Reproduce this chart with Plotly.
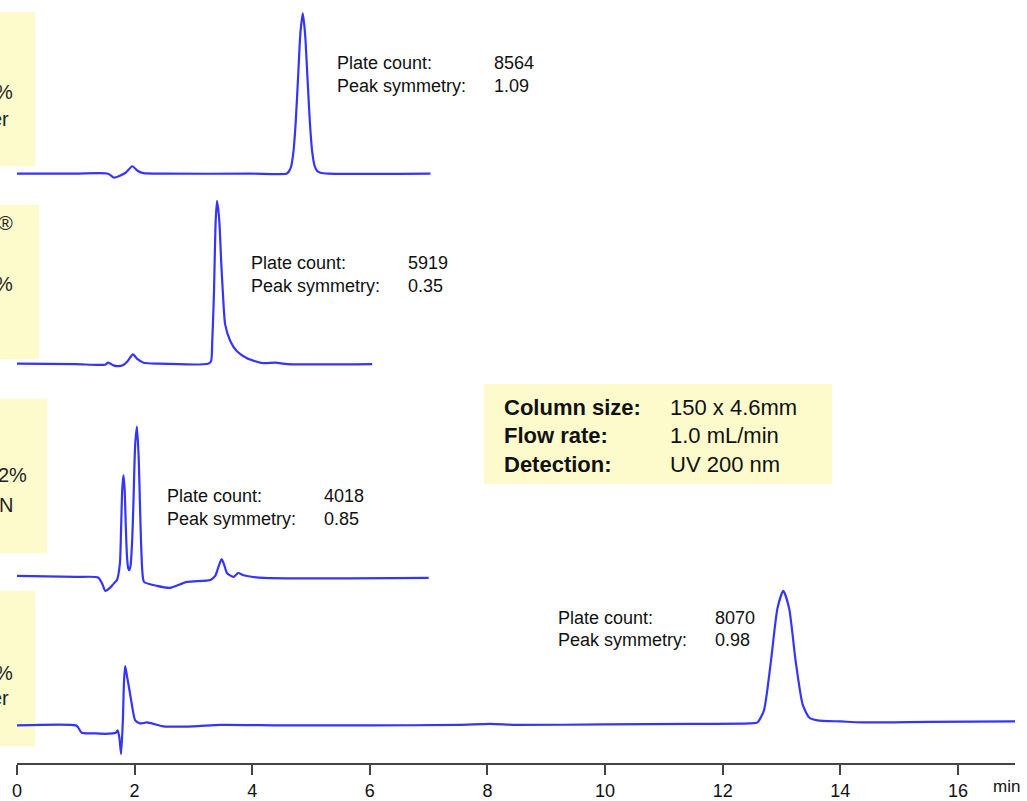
import plotly.graph_objects as go

# ---------------- data ----------------
# retention time (min) and detector response (relative units) for each chromatogram
t1 = [0, 1.0, 1.55, 1.65, 1.75, 1.85, 1.96, 2.05, 2.15, 2.5, 4.0, 4.58, 4.62, 4.66, 4.70,
      4.74, 4.78, 4.82, 4.86, 4.90, 4.94, 4.98, 5.02, 5.06, 5.10, 5.16, 5.3, 7.03]
s1 = [0, 0, 0, -4, -2, 1, 7.5, 3, 0.5, 0, 0, 0, 2, 7, 22,
      53, 98, 143, 162, 140, 96, 52, 22, 8, 3, 1, 0, 0]

t2 = [0, 1.0, 1.5, 1.55, 1.65, 1.72, 1.8, 1.88, 1.97, 2.05, 2.15, 2.4, 3.25, 3.30, 3.32,
      3.35, 3.375, 3.40, 3.425, 3.445, 3.47, 3.50, 3.54, 3.63, 3.74, 3.91, 4.05, 4.19,
      4.4, 4.6, 6.04]
s2 = [0.5, 0, -0.5, 1.5, -1.5, -2, -1, 3, 10, 5, 1.5, 0.5, 0.5, 3, 23,
      73, 140, 165, 155, 140, 106, 73, 40, 23, 13, 6, 3, 1,
      1.5, 0, 0]

t3 = [0, 1.0, 1.38, 1.45, 1.50, 1.58, 1.64, 1.70, 1.75, 1.77, 1.79, 1.81, 1.83, 1.85,
      1.87, 1.89, 1.91, 1.93, 1.96, 1.98, 2.01, 2.04, 2.07, 2.09, 2.11, 2.13, 2.16,
      2.38, 2.60, 2.89, 3.29, 3.37, 3.43, 3.48, 3.53, 3.57, 3.68, 3.76, 3.84, 3.91,
      4.19, 7.0]
s3 = [2, 1, 0.5, -6, -13, -10, -6, -2, 15, 50, 90, 104, 90, 52,
      22, 10, 8, 12, 40, 76, 135, 153, 120, 76, 35, 8, -4,
      -8, -10, -4, -2, 2, 12, 19, 12, 5, 1, 5, 3, 2,
      0, 0]

t4 = [0, 1.0, 1.04, 1.10, 1.3, 1.5, 1.68, 1.71, 1.74, 1.77, 1.80, 1.82, 1.84, 1.87,
      1.92, 1.97, 2.01, 2.09, 2.21, 2.49, 3.0, 3.46, 4.5, 6.0, 7.5, 8.05, 8.5, 10.0,
      11.5, 12.45, 12.59, 12.70, 12.82, 12.93, 13.03, 13.13, 13.24, 13.36, 13.47,
      13.61, 14.01, 14.35, 15.5, 17.0]
s4 = [0, 0, -2, -7.5, -8, -8.5, -7.5, -5, -12, -29, 5, 45, 60, 50,
      33, 15, 5, 2, 3, -1, -1, 0.5, 0, 0, 0.5, 1.5, 0.5, 1,
      1.5, 2, 3, 15, 65, 118, 136, 118, 65, 21, 8,
      5, 4, 3, 3.5, 4]

plate_counts = ["8564", "5919", "4018", "8070"]
peak_symmetry = ["1.09", "0.35", "0.85", "0.98"]
left_labels = [["%", "er"], ["®", "%"], ["2%", "N"], ["%", "er"]]
conditions = [("Column size:", "150 x 4.6mm"),
              ("Flow rate:", "1.0 mL/min"),
              ("Detection:", "UV 200 nm")]
x_ticks = [0, 2, 4, 6, 8, 10, 12, 14, 16]

# ---------------- layout helpers ----------------
W, H = 1027, 801
ML, MR, MT, MB = 17, 12, 0, 30
PW, PH = W - ML - MR, H - MT - MB
XMAX = 16.97


def px(x):
    return (x - ML) / PW


def py(y):
    return (H - MB - y) / PH


offsets = [595.5, 403, 187, 38]   # vertical stacking of the chromatograms
series = [(t1, s1), (t2, s2), (t3, s3), (t4, s4)]
BLUE = "#3535f5"
YELLOW = "#fdfbcc"
FONT = "Liberation Sans, Arial, sans-serif"

fig = go.Figure()
for (t, s), off in zip(series, offsets):
    fig.add_trace(go.Scatter(
        x=t, y=[v + off for v in s], mode="lines",
        line=dict(color=BLUE, width=2.2, shape="spline", smoothing=0.6),
        hoverinfo="skip", showlegend=False))

shapes = []
annotations = []

# yellow label boxes on the left edge
boxes = [(0, 35, 12, 168), (0, 39, 207, 363), (0, 47, 403, 559), (0, 35, 597, 754)]
label_pos = [[(15, 93), (11, 120)], [(15, 225), (15, 287)],
             [(29, 480), (15, 510)], [(15, 680), (11, 705)]]
for (x0, x1, y0, y1) in boxes:
    shapes.append(dict(type="rect", xref="paper", yref="paper",
                       x0=px(x0 - 5), x1=px(x1), y0=py(y1), y1=py(y0),
                       fillcolor=YELLOW, line=dict(width=0), layer="below"))
for labels, poss in zip(left_labels, label_pos):
    for txt, (xr, yc) in zip(labels, poss):
        annotations.append(dict(text=txt, xref="paper", yref="paper",
                                x=px(xr), y=py(yc), xanchor="right", yanchor="middle",
                                showarrow=False, font=dict(family=FONT, size=20, color="#222")))

# plate count / peak symmetry notes
note_pos = [(335, 64), (249, 266), (165, 501), (556, 624)]
for pc, sym, (xl, yc) in zip(plate_counts, peak_symmetry, note_pos):
    rows = [("Plate count:", pc), ("Peak symmetry:", sym)]
    for i, (lab, val) in enumerate(rows):
        yy = yc + i * 23
        annotations.append(dict(text=lab, xref="paper", yref="paper", x=px(xl), y=py(yy),
                                xanchor="left", yanchor="middle", showarrow=False,
                                font=dict(family=FONT, size=18, color="#111")))
        annotations.append(dict(text=val, xref="paper", yref="paper", x=px(xl + 157), y=py(yy),
                                xanchor="left", yanchor="middle", showarrow=False,
                                font=dict(family=FONT, size=18, color="#111")))

# conditions box
shapes.append(dict(type="rect", xref="paper", yref="paper",
                   x0=px(484), x1=px(832), y0=py(489), y1=py(388),
                   fillcolor=YELLOW, line=dict(width=0), layer="below"))
for i, (lab, val) in enumerate(conditions):
    yy = 411.5 + i * 29
    annotations.append(dict(text="<b>" + lab + "</b>", xref="paper", yref="paper",
                            x=px(502), y=py(yy), xanchor="left", yanchor="middle",
                            showarrow=False, font=dict(family=FONT, size=22, color="#111")))
    annotations.append(dict(text=val, xref="paper", yref="paper",
                            x=px(668), y=py(yy), xanchor="left", yanchor="middle",
                            showarrow=False, font=dict(family=FONT, size=22, color="#111")))

# axis unit
annotations.append(dict(text="min", xref="paper", yref="paper", x=px(1006), y=py(795),
                        xanchor="center", yanchor="middle", showarrow=False,
                        font=dict(family=FONT, size=17, color="#111")))

fig.update_layout(
    width=W, height=H,
    margin=dict(l=ML, r=MR, t=MT, b=MB, pad=0),
    paper_bgcolor="white", plot_bgcolor="white",
    shapes=shapes, annotations=annotations,
    xaxis=dict(range=[0, XMAX], tickvals=x_ticks, ticktext=[str(v) for v in x_ticks],
               showgrid=False, zeroline=False, showline=True, linecolor="#444", linewidth=2,
               ticks="outside", ticklen=10, tickwidth=2, tickcolor="#444",
               tickfont=dict(family=FONT, size=18, color="#111")),
    yaxis=dict(range=[0, PH], visible=False, fixedrange=True),
)

fig.write_html("out.html", config={"displayModeBar": False},
               post_script="document.body.style.margin='0';document.body.style.overflow='hidden';")
